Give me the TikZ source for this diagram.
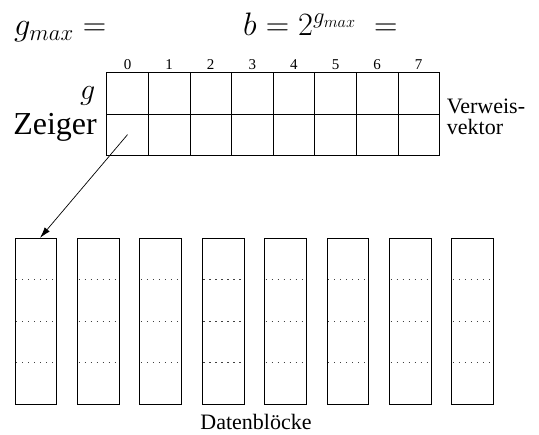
\RequirePackage{fix-cm}
\documentclass[tikz,border=0pt]{standalone}
\usepackage[no-math]{fontspec}
\newfontfamily\tms{Liberation Serif}
\usetikzlibrary{arrows.meta,calc}
\begin{document}
\begin{tikzpicture}[x=1pt,y=-1pt,
  cell/.style={draw, line width=0.8pt, minimum width=41.6pt, minimum height=41.3pt, inner sep=0pt},
  blockbox/.style={draw, line width=0.8pt, minimum width=41.7pt, minimum height=165.7pt, inner sep=0pt},
  idx/.style={font=\tms\fontsize{15}{15}\selectfont, inner sep=0pt},
  lbl/.style={font=\tms\fontsize{22}{21.5}\selectfont, inner sep=0pt},
  mathbig/.style={font=\fontsize{32.5}{38}\selectfont, inner sep=0pt},
  sepline/.style={draw=black!75, line width=1.2pt, dash pattern=on 1.2pt off 4.8pt},
  pointer/.style={-{Latex[length=11pt,width=6.5pt]}, line width=0.7pt}]
\useasboundingbox (0,0) rectangle (539,435);
\foreach \i in {0,...,7} {
  \node[cell] (g\i) at ({106.7+41.6*(\i+0.5)}, 93.35) {};
  \node[cell] (z\i) at ({106.7+41.6*(\i+0.5)}, 134.65) {};
  \node[idx] (n\i) at ({106.7+41.6*(\i+0.5)}, 64.7) {\i};
  \node[blockbox] (b\i) at ({35.85+62.4*\i}, 321.15) {};
  \foreach \k in {1,2,3}
    \draw[sepline] ($(b\i.north west)!\k/4!(b\i.south west)+(1.5,0)$) -- ($(b\i.north east)!\k/4!(b\i.south east)$);
}
\draw[pointer] (z0.center) -- ([xshift=4.2pt]b0.north);
\node[mathbig, anchor=base west] (gmax) at (14,35.5) {$g_{max} =$};
\node[mathbig, anchor=base west] (bform) at (243,35.5) {$b = 2^{g_{max}}\;=$};
\node[anchor=base east, inner sep=0pt, font=\fontsize{30}{32}\selectfont] (glbl) at (95.5,99.4) {$g$};
\node[anchor=base east, inner sep=0pt, font=\tms\fontsize{32}{34}\selectfont] (zlbl) at (97,135) {Zeiger};
\node[lbl, anchor=base west, align=left] (vv) at (446.7,135) {Verweis-\\vektor};
\node[lbl, anchor=base] (db) at (256,430) {Datenblöcke};
\end{tikzpicture}
\end{document}
